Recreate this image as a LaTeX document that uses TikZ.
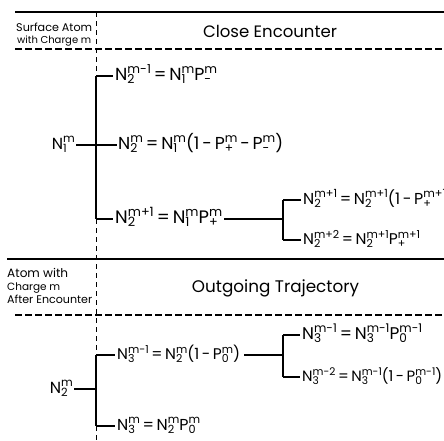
\documentclass[tikz,border=0pt]{standalone}
\usepackage{graphicx}
\usepackage{fontspec}
\setmainfont{Poppins}
% symbol #1 with superscript #2 stacked over subscript #3
\newsavebox\qsup
\newsavebox\qsub
\newlength\qw
\newcommand\Q[3]{#1%
  \sbox\qsup{\fontsize{8.5}{9}\selectfont #2}%
  \sbox\qsub{\fontsize{8.5}{9}\selectfont #3}%
  \setlength\qw{\wd\qsup}%
  \ifdim\wd\qsub>\qw \setlength\qw{\wd\qsub}\fi
  \rlap{\raisebox{5pt}{\usebox\qsup}}\rlap{\raisebox{-2.2pt}{\usebox\qsub}}\hspace{\qw}}
% text stretched to a given width
\newcommand\fit[2]{\resizebox{#1pt}{!}{#2}}
\begin{document}
\begin{tikzpicture}[x=1pt,y=-1pt,
  rule/.style={line width=1.3pt},
  dashrule/.style={line width=1.1pt, dash pattern=on 7pt off 3pt},
  vdash/.style={line width=0.8pt, dash pattern=on 5pt off 4pt},
  tree/.style={line width=1.8pt},
  stub/.style={line width=2.4pt},
  eq/.style={anchor=base west, inner sep=0pt, font=\fontsize{12}{14}\selectfont},
  lab/.style={anchor=base west, inner sep=0pt, font=\fontsize{11}{13}\selectfont},
  head/.style={anchor=base, inner sep=0pt, font=\fontsize{17}{19}\selectfont}]
\fill[white] (0,0) rectangle (444,440);
\useasboundingbox (0,0) rectangle (444,440);

% frame rules
\draw[rule] (15,12) -- (444,12);
\draw[dashrule] (15,49) -- (444,49);
\draw[rule] (7,259) -- (444,259);
\draw[dashrule] (15,315) -- (444,315);
\draw[vdash] (96,12) -- (96,440);

% headings
\node[lab] (l1) at (16,31) {\fit{76}{Surface Atom}};
\node[lab] (l2) at (17,43) {\fit{74}{with Charge m}};
\node[head] (ce) at (270,37) {\fit{134}{Close Encounter}};
\node[lab] (l3) at (7,277) {\fit{61}{Atom with}};
\node[lab] (l4) at (7,290) {\fit{53}{Charge m}};
\node[lab] (l5) at (7,303) {\fit{85}{After Encounter}};
\node[head] (ot) at (275.5,292) {\fit{167}{Outgoing Trajectory}};

% close encounter tree
\coordinate (n1e) at (76,145);
\coordinate (b1) at (96,145);
\coordinate (b1t) at (96,76);
\coordinate (b1b) at (96,219);
\coordinate (s1) at (113,76);
\coordinate (s2) at (117,145);
\coordinate (s3) at (113,219);
\node[eq, anchor=base east] (n1) at (75,149.5) {\fit{23}{\Q{N}{m}{1}}};
\node[eq] (e1) at (115,80.5) {\fit{102}{\Q{N}{m-1}{2}\,=\,\Q{N}{m}{1}\Q{P}{m}{-}}};
\node[eq] (e2) at (118,149.5) {\fit{165}{\Q{N}{m}{2}\,=\,\Q{N}{m}{1}(1\,-\,\Q{P}{m}{+}\,-\,\Q{P}{m}{-})}};
\node[eq] (e3) at (115,223.5) {\fit{107}{\Q{N}{m+1}{2}\,=\,\Q{N}{m}{1}\Q{P}{m}{+}}};
\draw[tree] (b1t) -- (b1b);
\draw[stub] (b1t) -- (s1);
\draw[stub] (b1b) -- (s3);
\draw[tree] (n1e) -- (s2);

\coordinate (c1) at (224,219);
\coordinate (b2) at (283,219);
\coordinate (b2t) at (283,200);
\coordinate (b2b) at (283,240);
\coordinate (s4) at (301,200);
\coordinate (s5) at (301,240);
\node[eq] (e4) at (303,204.5) {\fit{143}{\Q{N}{m+1}{2}\,=\,\Q{N}{m+1}{2}(1\,-\,\Q{P}{m+1}{+}}};
\node[eq] (e5) at (303,244.5) {\fit{117}{\Q{N}{m+2}{2}\,=\,\Q{N}{m+1}{2}\Q{P}{m+1}{+}}};
\draw[tree] (c1) -- (b2);
\draw[tree] (b2t) -- (b2b);
\draw[stub] (b2t) -- (s4);
\draw[stub] (b2b) -- (s5);

% outgoing trajectory tree
\coordinate (n2e) at (74,389);
\coordinate (b3) at (96,389);
\coordinate (b3t) at (96,355);
\coordinate (b3b) at (96,426);
\coordinate (s6) at (115,355);
\coordinate (s7) at (115,426);
\node[eq, anchor=base east] (n2) at (73,393.5) {\fit{23}{\Q{N}{m}{2}}};
\node[eq] (g1) at (117,359.5) {\fit{123}{\Q{N}{m-1}{3}\,=\,\Q{N}{m}{2}(1\,-\,\Q{P}{m}{0})}};
\node[eq] (g2) at (117,430.5) {\fit{83}{\Q{N}{m}{3}\,=\,\Q{N}{m}{2}\Q{P}{m}{0}}};
\draw[tree] (n2e) -- (b3);
\draw[tree] (b3t) -- (b3b);
\draw[stub] (b3t) -- (s6);
\draw[stub] (b3b) -- (s7);

\coordinate (c2) at (244,355);
\coordinate (b4) at (283,355);
\coordinate (b4t) at (283,335);
\coordinate (b4b) at (283,377);
\coordinate (s8) at (300,335);
\coordinate (s9) at (300,377);
\node[eq] (g3) at (302,339.5) {\fit{120}{\Q{N}{m-1}{3}\,=\,\Q{N}{m-1}{3}\Q{P}{m-1}{0}}};
\node[eq] (g4) at (302,381.5) {\fit{140}{\Q{N}{m-2}{3}\,=\,\Q{N}{m-1}{3}(1\,-\,\Q{P}{m-1}{0})}};
\draw[tree] (c2) -- (b4);
\draw[tree] (b4t) -- (b4b);
\draw[stub] (b4t) -- (s8);
\draw[stub] (b4b) -- (s9);
\end{tikzpicture}
\end{document}
